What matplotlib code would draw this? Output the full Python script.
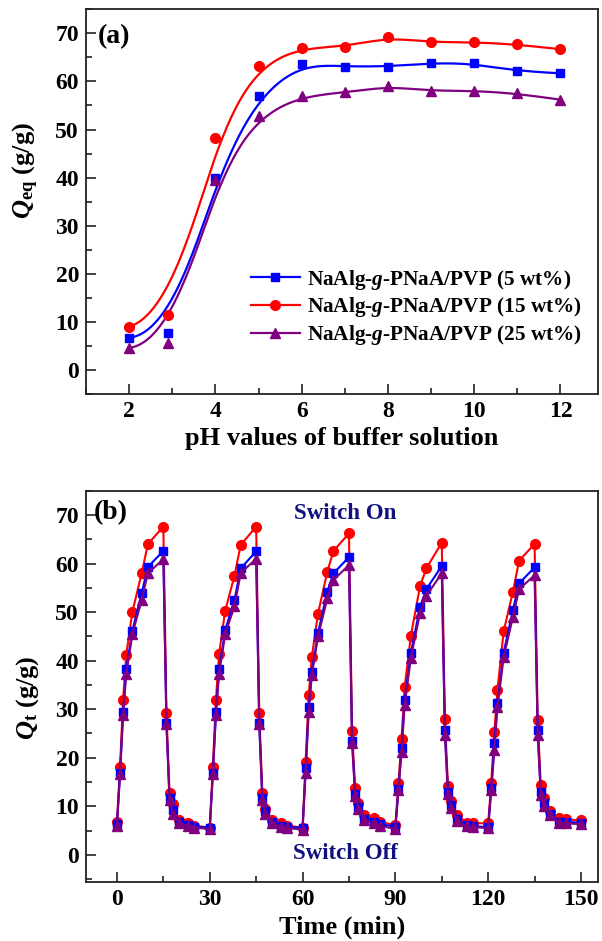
import numpy as np
import matplotlib
matplotlib.use("Agg")
import matplotlib.pyplot as plt
from matplotlib.ticker import MultipleLocator

plt.rcParams['font.family'] = ['Liberation Serif', 'DejaVu Serif']
plt.rcParams['font.weight'] = 'bold'
plt.rcParams['mathtext.fontset'] = 'custom'
plt.rcParams['mathtext.rm'] = 'Liberation Serif:bold'
plt.rcParams['mathtext.it'] = 'Liberation Serif:italic:bold'
plt.rcParams['mathtext.bf'] = 'Liberation Serif:bold'

# ---------------- Panel (a) data ----------------
ph = [2, 2.9, 4, 5, 6, 7, 8, 9, 10, 11, 12]
q_5wt = [6.7, 7.6, 39.9, 57.0, 63.6, 63.1, 63.1, 63.8, 63.8, 62.1, 61.7]
q_15wt = [9.0, 11.4, 48.3, 63.3, 67.0, 67.2, 69.2, 68.1, 68.2, 67.7, 66.7]
q_25wt = [4.6, 5.6, 39.5, 52.8, 56.9, 57.7, 59.0, 58.0, 58.1, 57.5, 56.2]

labels = ['NaAlg-$g$-PNaA/PVP (5 wt%)',
          'NaAlg-$g$-PNaA/PVP (15 wt%)',
          'NaAlg-$g$-PNaA/PVP (25 wt%)']

# ---------------- Panel (b) data ----------------
time_min = [0, 1, 2, 3, 5, 8, 10, 15, 16, 17, 18, 20, 23, 25,
            30, 31, 32, 33, 35, 38, 40, 45, 46, 47, 48, 50, 53, 55,
            60, 61, 62, 63, 65, 68, 70, 75, 76, 77, 78, 80, 83, 85,
            90, 91, 92, 93, 95, 98, 100, 105, 106, 107, 108, 110, 113, 115,
            120, 121, 122, 123, 125, 128, 130, 135, 136, 137, 138, 140, 143, 145,
            150]
qt_15wt = [6.8, 18.1, 31.9, 41.1, 50.1, 58.0, 64.0, 67.6, 29.3, 12.8, 10.4, 7.2, 6.5, 6.0,
           5.6, 18.1, 31.9, 41.3, 50.3, 57.5, 63.8, 67.6, 29.3, 12.8, 9.5, 7.2, 6.5, 6.0,
           5.6, 19.2, 32.9, 40.8, 49.7, 58.3, 62.6, 66.2, 25.6, 13.7, 10.7, 8.2, 7.5, 6.8,
           6.1, 14.7, 23.8, 34.5, 45.1, 55.4, 59.0, 64.3, 27.9, 14.2, 11.1, 8.2, 6.6, 6.5,
           6.5, 14.8, 25.3, 33.9, 46.0, 54.2, 60.6, 64.0, 27.8, 14.4, 11.6, 9.1, 7.5, 7.3,
           7.1]
qt_5wt = [6.3, 16.8, 29.5, 38.2, 46.2, 53.9, 59.3, 62.6, 27.1, 11.6, 9.2, 6.8, 6.1, 5.8,
          5.6, 16.8, 29.5, 38.2, 46.3, 52.5, 59.0, 62.5, 27.1, 11.6, 9.0, 6.8, 6.0, 5.8,
          5.5, 17.8, 30.5, 37.7, 45.7, 54.2, 58.0, 61.3, 23.5, 12.6, 9.8, 7.3, 6.8, 6.3,
          5.8, 13.5, 22.1, 31.9, 41.6, 51.1, 54.7, 59.5, 25.8, 12.9, 10.2, 7.3, 6.1, 5.9,
          5.7, 13.7, 23.1, 31.2, 41.6, 50.4, 55.9, 59.2, 25.8, 12.9, 10.6, 8.5, 6.8, 6.8,
          6.6]
qt_25wt = [6.0, 16.6, 28.8, 37.2, 45.5, 52.5, 58.0, 60.9, 27.0, 11.2, 8.5, 6.6, 5.9, 5.6,
           5.3, 16.6, 28.8, 37.2, 45.5, 51.2, 58.0, 61.0, 27.0, 11.2, 8.5, 6.5, 5.8, 5.5,
           5.2, 16.8, 29.5, 37.0, 45.0, 52.8, 56.6, 59.7, 23.0, 12.2, 9.4, 7.1, 6.5, 6.0,
           5.3, 13.3, 21.2, 30.8, 40.5, 49.9, 53.3, 58.0, 24.7, 12.5, 9.6, 7.0, 5.9, 5.7,
           5.5, 13.4, 21.6, 30.4, 40.7, 49.0, 54.7, 57.6, 24.7, 12.4, 10.0, 8.1, 6.5, 6.5,
           6.3]

BLUE = '#0000FF'
RED = '#FF0000'
PURPLE = '#800080'
NAVY = '#10107f'


def bspline(px, py, k=3, num=400):
    """Clamped uniform B-spline using the data points as control points."""
    px = np.asarray(px, float)
    py = np.asarray(py, float)
    n = len(px)
    knots = np.concatenate([np.zeros(k + 1), np.arange(1, n - k), np.full(k + 1, n - k)]).astype(float)
    u = np.linspace(0, n - k, num)
    u[-1] -= 1e-9
    N = np.zeros((num, len(knots) - 1))
    for i in range(len(knots) - 1):
        N[:, i] = ((knots[i] <= u) & (u < knots[i + 1])).astype(float)
    for d in range(1, k + 1):
        Nn = np.zeros((num, len(knots) - 1 - d))
        for i in range(len(knots) - 1 - d):
            a = knots[i + d] - knots[i]
            b = knots[i + d + 1] - knots[i + 1]
            t1 = (u - knots[i]) / a * N[:, i] if a > 0 else 0.0
            t2 = (knots[i + d + 1] - u) / b * N[:, i + 1] if b > 0 else 0.0
            Nn[:, i] = t1 + t2
        N = Nn
    return N @ px, N @ py


fig = plt.figure(figsize=(6.02, 9.41), dpi=100)
W, H = 602.0, 941.0
ax1 = fig.add_axes([86 / W, 1 - 394 / H, 512 / W, 384.7 / H])
ax2 = fig.add_axes([86 / W, 1 - 882 / H, 512 / W, 391.3 / H])

TICK_FS = 17
LABEL_FS = 19

for ax in (ax1, ax2):
    for s in ax.spines.values():
        s.set_linewidth(1.3)
        s.set_color('#222222')
    ax.tick_params(which='both', direction='in', top=False, right=False,
                   labelsize=TICK_FS, width=1.2, color='#222222')
    ax.tick_params(which='major', length=7, pad=5)
    ax.tick_params(which='minor', length=4)

# ---- panel (a)
series_a = [(q_5wt, BLUE, 's', 6), (q_15wt, RED, 'o', 7), (q_25wt, PURPLE, '^', 7)]
order = [1, 0, 2]
handles = [None] * 3
for idx in order:
    q, c, m, ms = series_a[idx]
    xs, ys = bspline(ph, q)
    ax1.plot(xs, ys, color=c, lw=1.6, zorder=2)
    ax1.plot(ph, q, linestyle='none', marker=m, ms=ms, color=c, zorder=3)
    handles[idx] = plt.Line2D([], [], color=c, lw=1.6, marker=m, ms=ms)

ax1.set_xlim(1, 12.87)
ax1.set_ylim(-5, 75)
ax1.xaxis.set_major_locator(MultipleLocator(2))
ax1.xaxis.set_minor_locator(MultipleLocator(1))
ax1.yaxis.set_major_locator(MultipleLocator(10))
ax1.yaxis.set_minor_locator(MultipleLocator(5))
ax1.set_xlabel('pH values of buffer solution', fontsize=LABEL_FS, fontweight='bold', labelpad=4)
ax1.set_ylabel(r'$Q_{\rm eq}$ (g/g)', fontsize=LABEL_FS, fontweight='bold')
ax1.yaxis.set_label_coords(-0.088, 0.58)
ax1.text(0.022, 0.93, '(a)', transform=ax1.transAxes, fontsize=20, fontweight='bold',
         va='center', ha='left')
leg = ax1.legend(handles, labels, loc='center left', bbox_to_anchor=(0.305, 0.225),
                 frameon=False, fontsize=15.3, handlelength=2.3, labelspacing=0.18,
                 handletextpad=0.35, borderaxespad=0)

# ---- panel (b)
series_b = [(qt_15wt, RED, 'o', 7), (qt_5wt, BLUE, 's', 6), (qt_25wt, PURPLE, '^', 7)]
for q, c, m, ms in series_b:
    ax2.plot(time_min, q, color=c, lw=1.5, marker=m, ms=ms)

ax2.set_xlim(-10, 155.5)
ax2.set_ylim(-5.6, 75)
ax2.xaxis.set_major_locator(MultipleLocator(30))
ax2.xaxis.set_minor_locator(MultipleLocator(15))
ax2.yaxis.set_major_locator(MultipleLocator(10))
ax2.yaxis.set_minor_locator(MultipleLocator(5))
ax2.set_xlabel('Time (min)', fontsize=LABEL_FS, fontweight='bold', labelpad=4)
ax2.set_ylabel(r'$Q_{\rm t}$ (g/g)', fontsize=LABEL_FS, fontweight='bold')
ax2.yaxis.set_label_coords(-0.088, 0.47)
ax2.text(0.016, 0.943, '(b)', transform=ax2.transAxes, fontsize=20, fontweight='bold',
         va='center', ha='left')
ax2.text(0.506, 0.943, 'Switch On', transform=ax2.transAxes, fontsize=16.5, fontweight='bold',
         color=NAVY, va='center', ha='center')
ax2.text(0.506, 0.074, 'Switch Off', transform=ax2.transAxes, fontsize=16.5, fontweight='bold',
         color=NAVY, va='center', ha='center')

fig.savefig('out.png', dpi=100)
